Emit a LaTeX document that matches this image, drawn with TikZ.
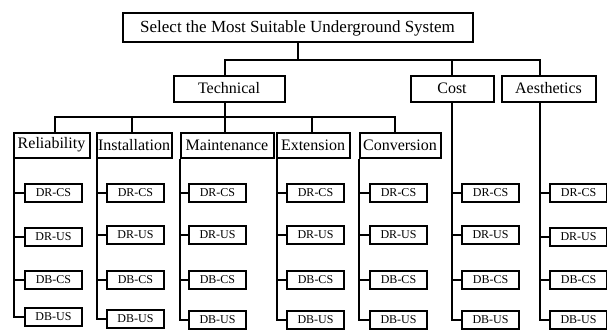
\documentclass[tikz,border=0pt]{standalone}
\usepackage{fontspec}
\setmainfont{Liberation Serif}
\begin{document}
\begin{tikzpicture}[x=1pt,y=-1pt,
  box/.style={draw,line width=2pt,inner sep=0pt,anchor=center},
  titlebox/.style={box,minimum width=350pt,minimum height=29pt,font=\fontsize{17}{20}\selectfont},
  mainbox/.style={box,minimum height=26pt,font=\fontsize{16}{19}\selectfont},
  catbox/.style={box,minimum height=25pt,font=\fontsize{16}{19}\selectfont},
  leaf/.style={box,minimum width=57pt,minimum height=18pt,font=\fontsize{12}{14}\selectfont},
  conn/.style={line width=2pt}]
\useasboundingbox (0,0) rectangle (607,329);

% levels
\node[titlebox] (title) at (297.5,28) {Select the Most Suitable Underground System};
\node[mainbox,minimum width=111pt] (tech) at (229,88.5) {Technical};
\node[mainbox,minimum width=83pt] (cost) at (452,88.5) {Cost};
\node[mainbox,minimum width=94pt] (aes) at (548.5,88.5) {Aesthetics};

\node[catbox,minimum width=76pt] (rel) at (51.5,145) {Reliability};
\node[catbox,minimum width=75pt] (ins) at (134,145) {Installation};
\node[catbox,minimum width=93pt] (mai) at (227,145) {Maintenance};
\node[catbox,minimum width=73pt] (ext) at (313,145) {Extension};
\node[catbox,minimum width=81pt] (con) at (400,145) {Conversion};

% buses and stem positions
\coordinate (bus1) at (0,60);
\coordinate (bus2) at (0,117);
\coordinate (xtech) at (225,0);
\coordinate (xaes) at (540,0);
\coordinate (xrel) at (55,0);
\coordinate (xins) at (132,0);
\coordinate (xext) at (312,0);
\coordinate (xcon) at (395,0);

\draw[conn] (title.south) -- (title.south |- bus1);
\draw[conn] (xtech |- tech.north) |- (bus1 -| xaes) -- (xaes |- aes.north);
\draw[conn] (cost.north) -- (cost.north |- bus1);

\draw[conn] (xtech |- tech.south) -- (xtech |- bus2);
\draw[conn] (xrel |- rel.north) |- (bus2 -| xcon) -- (xcon |- con.north);
\draw[conn] (xins |- ins.north) -- (xins |- bus2);
\draw[conn] (xtech |- mai.north) -- (xtech |- bus2);
\draw[conn] (xext |- ext.north) -- (xext |- bus2);

% leaves
\foreach \c/\vx/\lx/\ya/\yb/\yc/\yd in {
  rel/14/24/193/236.5/279.5/317,
  ins/97/106/193/234.5/279.5/319,
  mai/180/188/193/234.5/279.5/320,
  ext/277/286/193/234.5/279.5/320,
  con/359/369/193/234.5/279.5/320,
  cost/452/461/193/234.5/279.5/320,
  aes/540/549/193/236.5/279.5/320}{
  \node[leaf,anchor=west] (\c1) at (\lx,\ya) {DR-CS};
  \node[leaf,anchor=west] (\c2) at (\lx,\yb) {DR-US};
  \node[leaf,anchor=west] (\c3) at (\lx,\yc) {DB-CS};
  \node[leaf,anchor=west] (\c4) at (\lx,\yd) {DB-US};
  \coordinate (v\c) at (\vx,0);
  \draw[conn] (v\c |- \c.south) |- (\c4.west);
  \foreach \k in {1,2,3}{\draw[conn] (v\c |- \c\k.west) -- (\c\k.west);}
}
\end{tikzpicture}
\end{document}
